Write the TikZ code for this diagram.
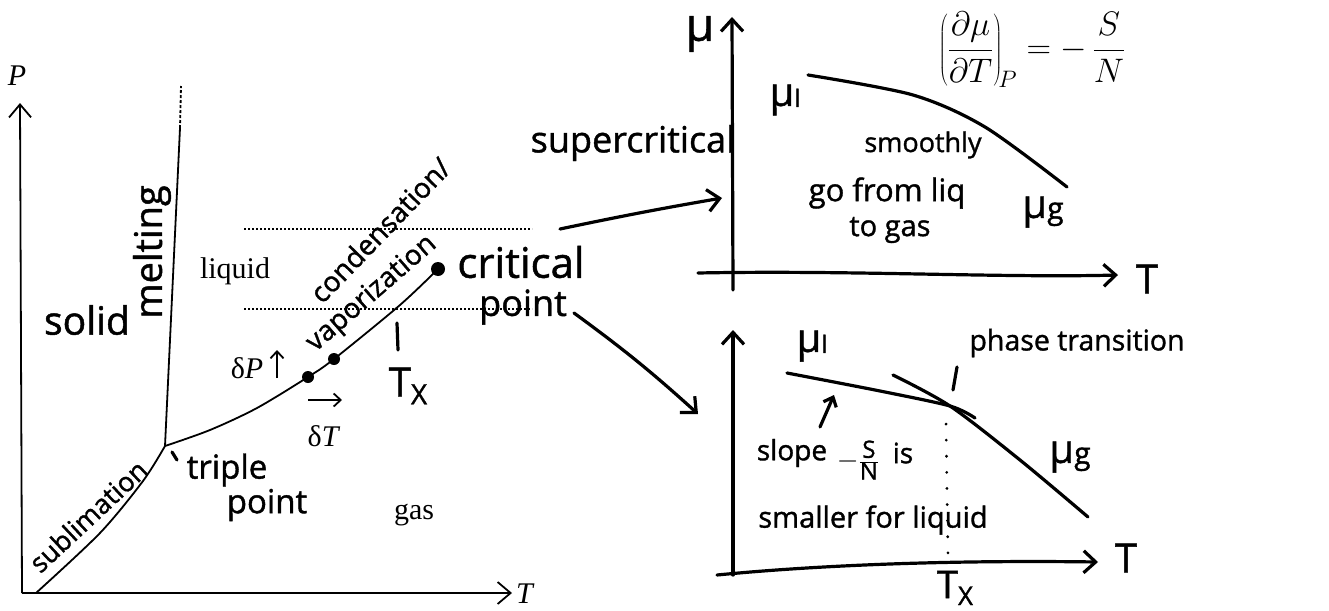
\documentclass[tikz,border=0pt]{standalone}
\usepackage{fix-cm}
\usepackage{fontspec}
\setmainfont{Liberation Serif}
\newfontfamily\handf[FakeBold=1.2]{Open Sans}
\usetikzlibrary{arrows.meta}
\newcommand{\hw}[1]{\fontsize{#1}{#1}\selectfont\handf}
\newcommand{\prf}{\fontsize{30}{30}\selectfont\rmfamily}
\begin{document}
\begin{tikzpicture}[x=1pt,y=-1pt,
  prline/.style={line width=1.8pt},
  pen/.style={line width=3.2pt, line cap=round, line join=round},
  axisarr/.style={line width=1.8pt,-{Straight Barb[length=13pt,width=22pt]}},
  penarrow/.style={pen,-{Straight Barb[length=12pt,width=22pt]}},
  hwtext/.style={inner sep=0pt, font=\hw{28}},
  prt/.style={inner sep=0pt, font=\prf},
  dotl/.style={line width=1.6pt, dash pattern=on 1.6pt off 2.4pt},
  bigdot/.style={circle, fill, inner sep=0pt, minimum size=12pt},
  sparse/.style={line width=3pt, line cap=round, dash pattern=on 0.1pt off 16pt}
]
\useasboundingbox (0,0) rectangle (1329,610);

% ---------------- left phase diagram ----------------
\coordinate (O) at (22,593);
\coordinate (Ptop) at (20,103);
\coordinate (Tend) at (512,593);
\draw[axisarr] (O) -- (Ptop);
\draw[axisarr] (O) -- (Tend);
\node[prt, font=\prf\itshape] (Plab) at (17,76) {P};
\node[prt, font=\prf\itshape, anchor=west] (Tlab) at (516,594) {T};

\coordinate (tp) at (165,446);
\coordinate (s0) at (36,593);
\coordinate (mtop) at (180,128);
\coordinate (mend) at (181,86);
\coordinate (p1) at (308,377);
\coordinate (p2) at (334,359);
\coordinate (cp) at (438,269);

\draw[prline] plot[smooth] coordinates {(s0) (100,533) (143,481) (tp)};
\draw[prline] (tp) -- (mtop);
\draw[prline, dash pattern=on 3pt off 2pt] (mtop) -- (mend);
\draw[prline] plot[smooth] coordinates {(tp) (210,430) (257,408) (p1) (p2) (400,305) (cp)};
\node[bigdot] (d1) at (p1) {};
\node[bigdot] (d2) at (p2) {};
\node[bigdot, minimum size=14pt] (dc) at (cp) {};

\coordinate (l1a) at (244,229); \coordinate (l1b) at (532,229);
\coordinate (l2a) at (244,309); \coordinate (l2b) at (532,309);
\draw[dotl] (l1a) -- (l1b);
\draw[dotl] (l2a) -- (l2b);

\node[prt] (liq) at (235,271) {liquid};
\node[prt] (gas) at (414,515) {gas};
\node[prt] (dP) at (247,368) {δ\textit{P}};
\coordinate (upA) at (277,378); \coordinate (upB) at (277,350);
\draw[prline, -{Straight Barb[length=7pt,width=13pt]}] (upA) -- (upB);
\coordinate (rtA) at (308,400); \coordinate (rtB) at (342,400);
\draw[prline, -{Straight Barb[length=7pt,width=13pt]}] (rtA) -- (rtB);
\node[prt] (dT) at (324,436) {δ\textit{T}};

\node[hwtext, font=\hw{39}] (solid) at (87,320) {solid};
\node[hwtext, font=\hw{38}, rotate=90] (melt) at (152,252) {melting};
\node[hwtext, font=\hw{28}, rotate=46] (cond) at (380,230) {condensation/};
\node[hwtext, font=\hw{28}, rotate=41] (vap) at (372,294) {vaporization};
\node[hwtext, font=\hw{27}, rotate=43] (subl) at (88,516) {sublimation};
\node[hwtext, font=\hw{42}] (crit) at (521,262) {critical};
\node[hwtext, font=\hw{36}] (cpt) at (523,307) {point};
\coordinate (tk1) at (397,323); \coordinate (tk2) at (398,350);
\draw[pen] (tk1) -- (tk2);
\node[hwtext, font=\hw{40}] (TX1) at (408,386) {T\raisebox{-8pt}{\hw{28}X}};
\coordinate (tt1) at (172,452); \coordinate (tt2) at (177,460);
\draw[pen] (tt1) -- (tt2);
\node[hwtext, font=\hw{33}] (trip) at (227,470) {triple};
\node[hwtext, font=\hw{33}] (tpt) at (267,505) {point};

% ---------------- arrows to right ----------------
\coordinate (a1s) at (560,229); \coordinate (a1e) at (722,198);
\draw[penarrow] (a1s) to[bend left=1] (a1e);
\coordinate (a2s) at (574,313); \coordinate (a2e) at (698,414);
\draw[penarrow] (a2s) to[bend left=3] (a2e);
\node[hwtext, font=\hw{36}] (super) at (633,143) {supercritical};

% ---------------- upper right plot ----------------
\coordinate (uy0) at (733,290); \coordinate (uy1) at (732,17);
\coordinate (ux0) at (698,273); \coordinate (ux1) at (1118,275);
\draw[penarrow] (uy0) -- (uy1);
\draw[penarrow] (ux0) .. controls (850,270) and (1000,278) .. (ux1);
\node[hwtext, font=\hw{40}] (Tu) at (1147,279) {T};
\node[hwtext, font=\hw{46}] (muax) at (700,34) {μ};
\coordinate (c1) at (808,75); \coordinate (c4) at (1067,187);
\draw[pen] plot[smooth] coordinates {(c1) (913,95) (985,127) (c4)};
\node[hwtext, font=\hw{40}] (mul1) at (785,100) {μ\raisebox{-1pt}{\hw{24}l}};
\node[hwtext, font=\hw{40}] (mug1) at (1043,212) {μ\raisebox{-1pt}{\hw{30}g}};
\node[hwtext, font=\hw{27}] (sm) at (923,145) {smoothly};
\node[hwtext, font=\hw{31}] (gf) at (887,193) {go from liq};
\node[hwtext, font=\hw{29}] (tg) at (890,230) {to gas};
\node[inner sep=0pt, font=\fontsize{34}{40}\selectfont] (form) at (1032,50)
  {$\displaystyle\left(\frac{\partial\mu}{\partial T}\right)_{\!P} = -\,\frac{S}{N}$};

% ---------------- lower right plot ----------------
\coordinate (ly0) at (733,575); \coordinate (ly1) at (733,330);
\coordinate (lx0) at (717,575); \coordinate (lx1) at (1098,562);
\draw[penarrow] (ly0) -- (ly1);
\draw[penarrow] (lx0) .. controls (820,565) and (950,560) .. (lx1);
\node[hwtext, font=\hw{40}] (Tl) at (1126,558) {T};
\coordinate (x0) at (950,406);
\coordinate (ml0) at (787,373); \coordinate (ml1) at (975,418);
\draw[pen] plot[smooth] coordinates {(ml0) (880,391) (x0) (ml1)};
\coordinate (mg0) at (893,375); \coordinate (mg1) at (1088,517);
\draw[pen] plot[smooth] coordinates {(mg0) (x0) (1020,460) (mg1)};
\coordinate (dv0) at (946,424); \coordinate (dv1) at (948,556);
\draw[sparse] (dv0) -- (dv1);
\node[hwtext, font=\hw{38}] (TX2) at (955,588) {T\raisebox{-7pt}{\hw{26}X}};
\node[hwtext, font=\hw{40}] (mul2) at (812,346) {μ\raisebox{-1pt}{\hw{24}l}};
\node[hwtext, font=\hw{40}] (mug2) at (1070,457) {μ\raisebox{-1pt}{\hw{30}g}};
\coordinate (pt1) at (953,390); \coordinate (pt2) at (957,367);
\draw[pen] (pt1) -- (pt2);
\node[hwtext, font=\hw{28.5}] (phase) at (1077,343) {phase transition};
\coordinate (sa0) at (820,427); \coordinate (sa1) at (834,395);
\draw[pen, -{Straight Barb[length=8pt,width=14pt]}] (sa0) -- (sa1);
\node[hwtext, font=\hw{28}] (slope) at (792,453) {slope};
\node[hwtext, font=\hw{28}] (frac) at (858,460)
  {$-\frac{\hbox{\hw{24}S}}{\hbox{\hw{24}N}}$};
\node[hwtext, font=\hw{28}] (is) at (903,453) {is};
\node[hwtext, font=\hw{29}] (small) at (873,520) {smaller for liquid};
\end{tikzpicture}
\end{document}
